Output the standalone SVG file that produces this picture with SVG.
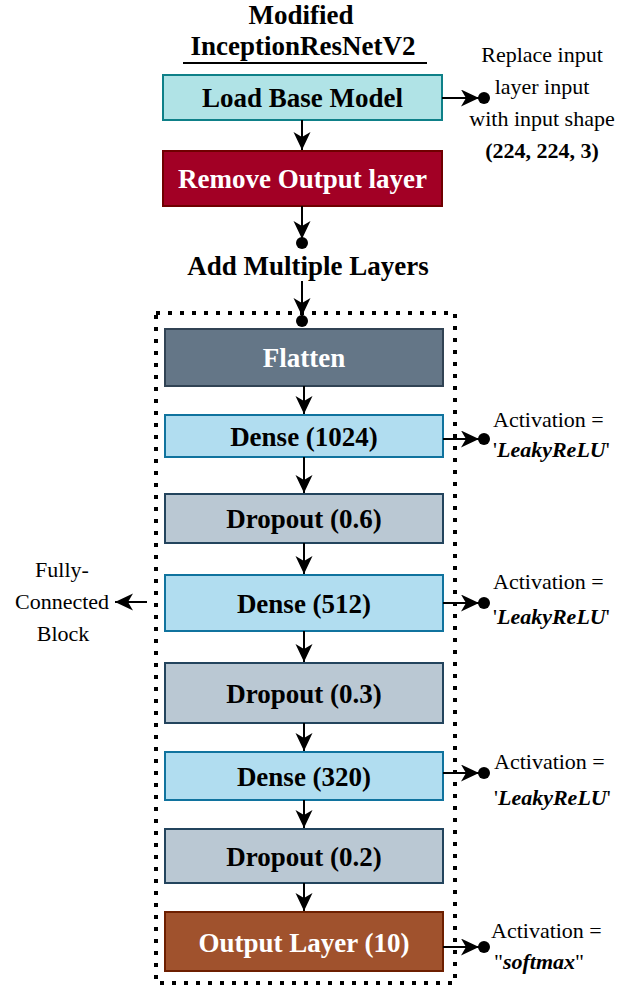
<svg xmlns="http://www.w3.org/2000/svg" width="621" height="990" viewBox="0 0 621 990">
<style>
.lbl{font-family:'Liberation Serif',serif;font-weight:bold;font-size:27px;text-anchor:middle}
.w{fill:#ffffff}
.k{fill:#000000}
.side{font-family:'Liberation Serif',serif;font-size:22px;fill:#000}
.edge{stroke:#000;stroke-width:2;fill:none}
.dot{fill:#000}
</style>
<defs>
<marker id="ah" markerUnits="userSpaceOnUse" markerWidth="20" markerHeight="20" refX="18" refY="8.5" orient="auto">
<path d="M0,0 L18,8.5 L0,17 L5,8.5 Z" fill="#000"/>
</marker>
</defs>
<rect width="621" height="990" fill="#ffffff"/>

<g id="title" font-family="Liberation Serif, serif">
<text class="lbl k" x="301" y="24">Modified</text>
<text class="lbl k" x="303" y="55">InceptionResNetV2</text>
<line x1="183" y1="63" x2="427" y2="63" stroke="#000" stroke-width="2"/>
</g>

<g id="fc-block">
<rect x="156" y="313" width="299" height="670" fill="none" stroke="#000" stroke-width="4" stroke-dasharray="4 8"/>
</g>

<g id="load" font-family="Liberation Serif, serif">
<rect x="163" y="75" width="279" height="45" fill="#b0e3e6" stroke="#0e8088" stroke-width="2"/>
<text class="lbl k" x="302.5" y="107">Load Base Model</text>
</g>
<g id="remove" font-family="Liberation Serif, serif">
<rect x="163" y="151" width="279" height="55" fill="#a20025" stroke="#6f0000" stroke-width="2"/>
<text class="lbl w" x="302.5" y="188">Remove Output layer</text>
</g>
<g id="addlayers" font-family="Liberation Serif, serif">
<text class="lbl k" x="308" y="275">Add Multiple Layers</text>
</g>
<g id="flatten" font-family="Liberation Serif, serif">
<rect x="165" y="329" width="278" height="57" fill="#647687" stroke="#314354" stroke-width="2"/>
<text class="lbl w" x="304" y="367">Flatten</text>
</g>
<g id="dense1024" font-family="Liberation Serif, serif">
<rect x="165" y="415" width="278" height="42" fill="#b1ddf0" stroke="#10739e" stroke-width="2"/>
<text class="lbl k" x="304" y="446">Dense (1024)</text>
</g>
<g id="dropout06" font-family="Liberation Serif, serif">
<rect x="165" y="494" width="278" height="49" fill="#bac8d3" stroke="#23445d" stroke-width="2"/>
<text class="lbl k" x="304" y="528">Dropout (0.6)</text>
</g>
<g id="dense512" font-family="Liberation Serif, serif">
<rect x="165" y="575" width="278" height="56" fill="#b1ddf0" stroke="#10739e" stroke-width="2"/>
<text class="lbl k" x="304" y="613">Dense (512)</text>
</g>
<g id="dropout03" font-family="Liberation Serif, serif">
<rect x="165" y="663" width="278" height="60" fill="#bac8d3" stroke="#23445d" stroke-width="2"/>
<text class="lbl k" x="304" y="703">Dropout (0.3)</text>
</g>
<g id="dense320" font-family="Liberation Serif, serif">
<rect x="165" y="752" width="278" height="48" fill="#b1ddf0" stroke="#10739e" stroke-width="2"/>
<text class="lbl k" x="304" y="786">Dense (320)</text>
</g>
<g id="dropout02" font-family="Liberation Serif, serif">
<rect x="165" y="829" width="278" height="54" fill="#bac8d3" stroke="#23445d" stroke-width="2"/>
<text class="lbl k" x="304" y="866">Dropout (0.2)</text>
</g>
<g id="output" font-family="Liberation Serif, serif">
<rect x="165" y="912" width="278" height="59" fill="#a0522d" stroke="#6d1f00" stroke-width="2"/>
<text class="lbl w" x="304" y="952">Output Layer (10)</text>
</g>

<g id="note-input" font-family="Liberation Serif, serif">
<text class="side" text-anchor="middle" x="542" y="62">Replace input</text>
<text class="side" text-anchor="middle" x="542" y="94">layer input</text>
<text class="side" text-anchor="middle" x="542" y="126">with input shape</text>
<text class="side" text-anchor="middle" x="542" y="158" font-weight="bold">(224, 224, 3)</text>
</g>
<g id="note-fc" font-family="Liberation Serif, serif">
<text class="side" text-anchor="middle" x="62" y="577">Fully-</text>
<text class="side" text-anchor="middle" x="62" y="609">Connected</text>
<text class="side" text-anchor="middle" x="63" y="641">Block</text>
</g>
<g id="note-act1" font-family="Liberation Serif, serif">
<text class="side" x="493" y="427">Activation =</text>
<text class="side" x="493" y="457">'<tspan font-weight="bold" font-style="italic">LeakyReLU</tspan>'</text>
</g>
<g id="note-act2" font-family="Liberation Serif, serif">
<text class="side" x="493" y="589">Activation =</text>
<text class="side" x="493" y="624">'<tspan font-weight="bold" font-style="italic">LeakyReLU</tspan>'</text>
</g>
<g id="note-act3" font-family="Liberation Serif, serif">
<text class="side" x="494" y="769">Activation =</text>
<text class="side" x="494" y="805">'<tspan font-weight="bold" font-style="italic">LeakyReLU</tspan>'</text>
</g>
<g id="note-act4" font-family="Liberation Serif, serif">
<text class="side" x="491" y="938">Activation =</text>
<text class="side" x="494" y="969">"<tspan font-weight="bold" font-style="italic">softmax</tspan>"</text>
</g>

<g id="connectors">
<line class="edge" x1="302" y1="120" x2="302" y2="150" marker-end="url(#ah)"/>
<line class="edge" x1="302" y1="206" x2="302" y2="239" marker-end="url(#ah)"/>
<circle class="dot" cx="302" cy="243" r="6"/>
<line class="edge" x1="302" y1="281" x2="302" y2="316" marker-end="url(#ah)"/>
<circle class="dot" cx="302" cy="321" r="6"/>
<line class="edge" x1="442" y1="98" x2="479" y2="98" marker-end="url(#ah)"/>
<circle class="dot" cx="484" cy="98" r="6"/>
<line class="edge" x1="304" y1="386" x2="304" y2="414" marker-end="url(#ah)"/>
<line class="edge" x1="304" y1="457" x2="304" y2="493" marker-end="url(#ah)"/>
<line class="edge" x1="304" y1="543" x2="304" y2="574" marker-end="url(#ah)"/>
<line class="edge" x1="304" y1="631" x2="304" y2="662" marker-end="url(#ah)"/>
<line class="edge" x1="304" y1="723" x2="304" y2="751" marker-end="url(#ah)"/>
<line class="edge" x1="304" y1="800" x2="304" y2="828" marker-end="url(#ah)"/>
<line class="edge" x1="304" y1="883" x2="304" y2="911" marker-end="url(#ah)"/>
<line class="edge" x1="443" y1="439" x2="479" y2="439" marker-end="url(#ah)"/>
<circle class="dot" cx="484" cy="439" r="6"/>
<line class="edge" x1="443" y1="603" x2="479" y2="603" marker-end="url(#ah)"/>
<circle class="dot" cx="484" cy="603" r="6"/>
<line class="edge" x1="443" y1="773" x2="479" y2="773" marker-end="url(#ah)"/>
<circle class="dot" cx="484" cy="773" r="6"/>
<line class="edge" x1="443" y1="947" x2="479" y2="947" marker-end="url(#ah)"/>
<circle class="dot" cx="484" cy="947" r="6"/>
<line class="edge" x1="147" y1="602" x2="115" y2="602" marker-end="url(#ah)"/>
</g>
</svg>
